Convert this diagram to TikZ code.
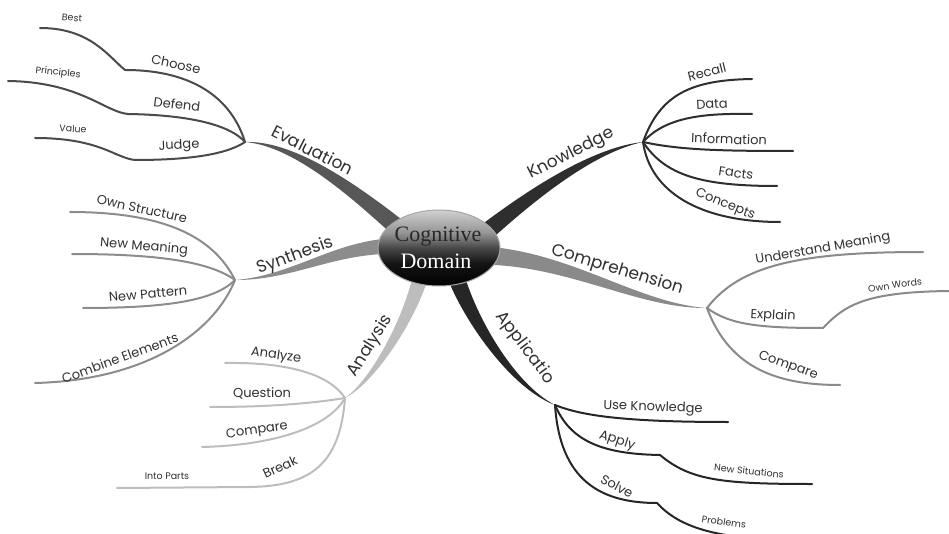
\documentclass[tikz,border=0pt]{standalone}
\usepackage{fontspec}
\setmainfont{Poppins}
\newfontfamily\hubfont{Liberation Serif}
\usetikzlibrary{calc,shapes.geometric}

\definecolor{ink}{HTML}{303030}
\definecolor{evalcol}{HTML}{575757}
\definecolor{knowcol}{HTML}{2E2E2E}
\definecolor{compcol}{HTML}{8A8A8A}
\definecolor{applcol}{HTML}{262626}
\definecolor{analcol}{HTML}{BDBDBD}
\definecolor{synthcol}{HTML}{8C8C8C}

% glossy dark lens for the central node
\pgfdeclareverticalshading{glossylens}{100bp}{%
  color(0bp)=(black); color(25bp)=(black); color(40bp)=(black!92);
  color(50bp)=(black!72); color(60bp)=(black!42); color(75bp)=(black!18);
  color(100bp)=(black!18)}

% tapered main branch: #1 colour, #2 thin end, #3 #4 controls, #5 thick end, #6 half width
\newcommand\taperbranch[6]{%
  \fill[#1] (#2) .. controls ($(#3)!0.3*#6!90:(#2)$) and ($(#4)!0.7*#6!90:(#2)$) ..
    ($(#5)!#6!90:(#2)$) -- ($(#5)!#6!-90:(#2)$)
    .. controls ($(#4)!0.7*#6!-90:(#2)$) and ($(#3)!0.3*#6!-90:(#2)$) .. (#2) -- cycle;}

\begin{document}
\begin{tikzpicture}[x=1pt,y=-1pt,
  mainlbl/.style={text=ink,font=\fontsize{17}{17}\selectfont,inner sep=0pt},
  sublbl/.style={text=ink,font=\fontsize{13}{13}\selectfont,inner sep=0pt},
  leaflbl/.style={text=ink,font=\fontsize{9.5}{9.5}\selectfont,inner sep=0pt},
  twig/.style={line width=2pt,line cap=round}]
\useasboundingbox (0,0) rectangle (949,534);
\clip (0,0) rectangle (949,534);

% hubs where the twigs meet
\coordinate (evalhub) at (245,142);
\coordinate (knowhub) at (643,142);
\coordinate (comphub) at (707,308);
\coordinate (applhub) at (555,405);
\coordinate (analhub) at (345,398);
\coordinate (synthhub) at (235,280);

% ends of the main branches, under the centre lens
\coordinate (evalroot) at (398,228);
\coordinate (knowroot) at (484,234);
\coordinate (comproot) at (492,256);
\coordinate (applroot) at (456,276);
\coordinate (analroot) at (420,278);
\coordinate (synthroot) at (392,246);

% main branches
\taperbranch{evalcol}{evalhub}{290,143}{345,183}{evalroot}{9pt}
\taperbranch{knowcol}{knowhub}{592,150}{530,196}{knowroot}{9pt}
\taperbranch{compcol}{comphub}{640,306}{575,262}{comproot}{9pt}
\taperbranch{applcol}{applhub}{512,386}{470,318}{applroot}{9pt}
\taperbranch{analcol}{analhub}{372,382}{408,322}{analroot}{8pt}
\taperbranch{synthcol}{synthhub}{292,278}{332,248}{synthroot}{8pt}

% centre node
\node[ellipse,minimum width=122pt,minimum height=76pt,inner sep=0pt,
      draw=black!35,line width=1pt,shading=glossylens] (core) at (439,248) {};
\node[text=black!85,font=\hubfont\fontsize{22}{22}\selectfont,inner sep=0pt] (coreA) at (438,237) {Cognitive};
\node[text=white,font=\hubfont\fontsize{22}{22}\selectfont,inner sep=0pt] (coreB) at (436,261) {Domain};

% ---- Evaluation
\coordinate (bestend) at (40,28);
\coordinate (princend) at (8,81);
\coordinate (valueend) at (35,138);
\draw[twig,evalcol!85!black] (bestend) .. controls (90,28) and (108,56) .. (125,70)
   .. controls (195,70) and (232,100) .. (evalhub);
\draw[twig,evalcol!85!black] (princend) .. controls (80,82) and (105,112) .. (128,114)
   .. controls (190,115) and (230,125) .. (evalhub);
\draw[twig,evalcol!85!black] (valueend) .. controls (100,138) and (115,158) .. (135,160)
   .. controls (200,160) and (230,152) .. (evalhub);
\node[mainlbl,rotate=-27] (evallbl) at (313,150) {Evaluation};
\node[sublbl,rotate=-12] (chooselbl) at (176,64) {Choose};
\node[sublbl,rotate=-7] (defendlbl) at (177,104) {Defend};
\node[sublbl,rotate=3] (judgelbl) at (179,146) {Judge};
\node[leaflbl,rotate=-5] (bestlbl) at (72,18) {Best};
\node[leaflbl,rotate=-6] (princlbl) at (58,73) {Principles};
\node[leaflbl,rotate=-4] (valuelbl) at (73,129) {Value};

% ---- Knowledge
\coordinate (recallend) at (752,79);
\coordinate (dataend) at (752,114);
\coordinate (infoend) at (793,151);
\coordinate (factsend) at (777,186);
\coordinate (conceptsend) at (780,222);
\draw[twig,knowcol] (knowhub) .. controls (660,95) and (690,80) .. (recallend);
\draw[twig,knowcol] (knowhub) .. controls (665,118) and (700,113) .. (dataend);
\draw[twig,knowcol] (knowhub) .. controls (680,150) and (720,151) .. (infoend);
\draw[twig,knowcol] (knowhub) .. controls (665,175) and (700,186) .. (factsend);
\draw[twig,knowcol] (knowhub) .. controls (650,192) and (700,222) .. (conceptsend);
\node[mainlbl,rotate=27] (knowlbl) at (571,154) {Knowledge};
\node[sublbl,rotate=14] (recalllbl) at (707,72) {Recall};
\node[sublbl,rotate=3] (datalbl) at (712,104) {Data};
\node[sublbl,rotate=-2] (infolbl) at (729,139) {Information};
\node[sublbl,rotate=-8] (factslbl) at (736,173) {Facts};
\node[sublbl,rotate=-22] (conceptslbl) at (725,205) {Concepts};

% ---- Comprehension
\coordinate (underend) at (923,252);
\coordinate (wordsend) at (949,291);
\coordinate (compareend) at (840,385);
\draw[twig,compcol] (comphub) .. controls (740,265) and (800,252) .. (underend);
\draw[twig,compcol] (comphub) .. controls (730,325) and (760,328) .. (823,328)
   .. controls (845,305) and (865,292) .. (wordsend);
\draw[twig,compcol] (comphub) .. controls (730,370) and (780,385) .. (compareend);
\node[mainlbl,rotate=-17] (complbl) at (617,270) {Comprehension};
\node[sublbl,rotate=10] (underlbl) at (823,249) {Understand Meaning};
\node[sublbl,rotate=-3] (explainlbl) at (773,316) {Explain};
\node[leaflbl,rotate=8] (wordslbl) at (895,285) {Own Words};
\node[sublbl,rotate=-20] (comparelbl) at (788,366) {Compare};

% ---- Application
\coordinate (useend) at (728,422);
\coordinate (situend) at (812,484);
\coordinate (probend) at (770,540);
\draw[twig,applcol] (applhub) .. controls (580,415) and (620,422) .. (useend);
\draw[twig,applcol] (applhub) .. controls (570,440) and (600,454) .. (660,455)
   .. controls (690,480) and (720,484) .. (situend);
\draw[twig,applcol] (applhub) .. controls (560,480) and (600,503) .. (657,503)
   .. controls (680,528) and (715,536) .. (probend);
\node[mainlbl,rotate=-53] (appllbl) at (525,348) {Applicatio};
\node[sublbl,rotate=-2] (uselbl) at (653,408) {Use Knowledge};
\node[sublbl,rotate=-18] (applylbl) at (617,441) {Apply};
\node[leaflbl,rotate=-6] (situlbl) at (749,471) {New Situations};
\node[sublbl,rotate=-28] (solvelbl) at (617,486) {Solve};
\node[leaflbl,rotate=-8] (problbl) at (724,522) {Problems};

% ---- Analysis
\coordinate (analyzeend) at (225,363);
\coordinate (questend) at (210,407);
\coordinate (cmpend) at (202,447);
\coordinate (partsend) at (117,488);
\draw[twig,analcol] (analyzeend) .. controls (290,362) and (330,375) .. (analhub);
\draw[twig,analcol] (questend) .. controls (280,407) and (320,402) .. (analhub);
\draw[twig,analcol] (cmpend) .. controls (280,445) and (330,425) .. (analhub);
\draw[twig,analcol] (analhub) .. controls (340,465) and (310,486) .. (250,487) -- (partsend);
\node[mainlbl,rotate=58] (anallbl) at (370,346) {Analysis};
\node[sublbl,rotate=-8] (analyzelbl) at (276,356) {Analyze};
\node[sublbl] (questlbl) at (262,393) {Question};
\node[sublbl,rotate=8] (cmplbl) at (257,431) {Compare};
\node[sublbl,rotate=25] (breaklbl) at (280,467) {Break};
\node[leaflbl] (partslbl) at (167,476) {Into Parts};

% ---- Synthesis
\coordinate (structend) at (70,212);
\coordinate (meanend) at (72,254);
\coordinate (pattend) at (83,308);
\coordinate (combend) at (35,383);
\draw[twig,synthcol] (structend) .. controls (170,212) and (215,240) .. (synthhub);
\draw[twig,synthcol] (meanend) .. controls (160,254) and (210,262) .. (synthhub);
\draw[twig,synthcol] (pattend) .. controls (170,308) and (215,300) .. (synthhub);
\draw[twig,synthcol] (combend) .. controls (150,380) and (215,330) .. (synthhub);
\node[mainlbl,rotate=20] (synthlbl) at (295,256) {Synthesis};
\node[sublbl,rotate=-12] (structlbl) at (142,209) {Own Structure};
\node[sublbl,rotate=-5] (meanlbl) at (144,247) {New Meaning};
\node[sublbl,rotate=5] (pattlbl) at (148,294) {New Pattern};
\node[sublbl,rotate=20] (comblbl) at (120,358) {Combine Elements};
\end{tikzpicture}
\end{document}
